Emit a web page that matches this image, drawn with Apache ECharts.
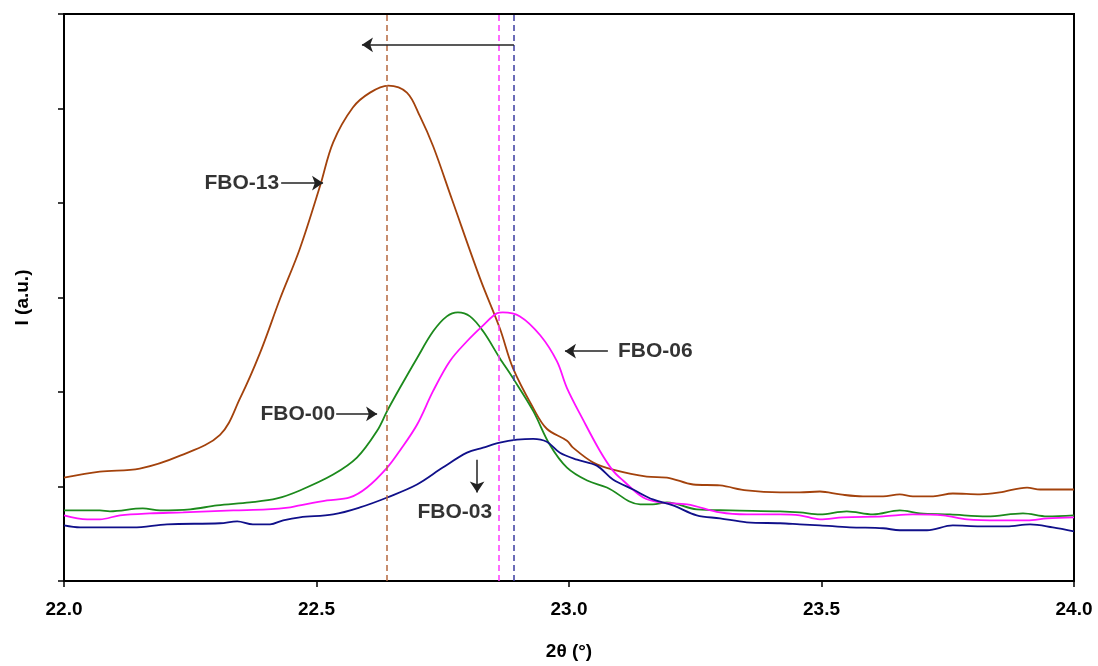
<!DOCTYPE html>
<html>
<head>
<meta charset="utf-8">
<script src="https://cdn.jsdelivr.net/npm/echarts@6/dist/echarts.min.js"></script>
<style>html,body{margin:0;padding:0;background:#fff}#c{width:1098px;height:666px}</style>
</head>
<body>
<div id="c"></div>
<script>
// ---- data (2θ in degrees, intensity in arbitrary units) ----
const xTickLabels = ['22.0', '22.5', '23.0', '23.5', '24.0'];

const fbo13X = [22.000,22.071,22.150,22.230,22.309,22.349,22.388,22.428,22.467,22.507,22.533,22.572,22.606,22.642,22.679,22.705,22.731,22.768,22.824,22.863,22.889,22.929,22.956,22.996,23.008,23.048,23.087,23.154,23.194,23.246,23.299,23.352,23.418,23.457,23.497,23.537,23.582,23.622,23.655,23.681,23.721,23.760,23.814,23.853,23.907,23.933,24.000];
const fbo13Y = [1.095,1.158,1.189,1.326,1.547,1.937,2.411,2.989,3.516,4.179,4.642,5.011,5.168,5.242,5.168,4.916,4.600,4.042,3.200,2.674,2.253,1.832,1.611,1.484,1.411,1.253,1.179,1.105,1.095,1.021,1.011,0.958,0.937,0.937,0.947,0.916,0.895,0.895,0.916,0.895,0.895,0.926,0.916,0.937,0.989,0.968,0.968];

const fbo00X = [22.000,22.071,22.091,22.156,22.190,22.250,22.303,22.368,22.422,22.467,22.533,22.580,22.620,22.640,22.665,22.699,22.731,22.758,22.780,22.804,22.830,22.863,22.889,22.929,22.962,22.996,23.036,23.075,23.141,23.166,23.194,23.253,23.319,23.418,23.457,23.497,23.550,23.602,23.655,23.695,23.754,23.828,23.899,23.947,24.000];
const fbo00Y = [0.747,0.747,0.737,0.768,0.747,0.758,0.800,0.832,0.874,0.958,1.126,1.305,1.589,1.800,2.042,2.358,2.642,2.800,2.842,2.800,2.642,2.358,2.147,1.800,1.442,1.200,1.063,0.989,0.811,0.811,0.832,0.758,0.747,0.737,0.726,0.705,0.737,0.705,0.747,0.716,0.705,0.684,0.716,0.684,0.695];

const fbo06X = [22.000,22.046,22.071,22.111,22.170,22.236,22.335,22.402,22.448,22.467,22.521,22.566,22.600,22.640,22.665,22.699,22.731,22.764,22.798,22.830,22.857,22.869,22.903,22.943,22.976,22.996,23.028,23.061,23.087,23.107,23.147,23.180,23.234,23.299,23.352,23.418,23.457,23.497,23.543,23.622,23.681,23.741,23.788,23.853,23.907,23.947,24.000];
const fbo06Y = [0.695,0.653,0.653,0.695,0.716,0.726,0.747,0.758,0.779,0.800,0.853,0.884,0.989,1.200,1.379,1.653,2.011,2.326,2.537,2.705,2.832,2.842,2.800,2.600,2.326,2.042,1.705,1.379,1.168,1.063,0.884,0.832,0.811,0.726,0.705,0.705,0.695,0.653,0.674,0.684,0.705,0.695,0.653,0.642,0.642,0.663,0.674];

const fbo03X = [22.000,22.032,22.137,22.204,22.309,22.343,22.374,22.408,22.434,22.467,22.533,22.586,22.640,22.699,22.750,22.798,22.830,22.863,22.897,22.929,22.956,22.982,23.016,23.055,23.087,23.127,23.166,23.206,23.253,23.299,23.352,23.418,23.457,23.497,23.556,23.622,23.655,23.709,23.760,23.814,23.867,23.913,23.958,24.000];
const fbo03Y = [0.589,0.568,0.568,0.600,0.611,0.632,0.600,0.600,0.642,0.674,0.705,0.779,0.884,1.021,1.200,1.358,1.411,1.463,1.495,1.505,1.474,1.358,1.284,1.221,1.074,0.968,0.863,0.800,0.695,0.663,0.621,0.611,0.600,0.589,0.568,0.558,0.537,0.537,0.589,0.579,0.579,0.600,0.568,0.526];

// peak positions (dashed guides)
const peakFBO13 = 22.642;
const peakFBO06 = 22.865;
const peakFBO03 = 22.891;

// annotation anchors (data coords)
const shiftArrow = [[22.891, 5.674], [22.590, 5.674]];
const arrow13 = [[22.430, 4.211], [22.513, 4.211]];
const arrow00 = [[22.539, 1.768], [22.620, 1.768]];
const arrow06 = [[23.077, 2.432], [22.992, 2.432]];
const arrow03 = [[22.818, 1.284], [22.818, 0.937]];
const label13 = [22.426, 4.211];
const label00 = [22.537, 1.768];
const label06 = [23.097, 2.432];
const label03 = [22.774, 0.726];

const pairs = (xs, ys) => xs.map((v, i) => [v, ys[i]]);

const lineSeries = (name, xs, ys, color) => ({
  name, type: 'line', data: pairs(xs, ys), showSymbol: false, symbol: 'none',
  smooth: 0.35,
  lineStyle: { color, width: 1.8 }, z: 3
});

const arrowItem = (seg) => [{ coord: seg[0] }, { coord: seg[1] }];

const chart = echarts.init(document.getElementById('c'));
const font = 'Liberation Sans, Arial, sans-serif';
chart.setOption({
  animation: false,
  backgroundColor: '#fff',
  grid: { left: 64, right: 24, top: 14, bottom: 82, show: true, borderColor: '#000', borderWidth: 2, backgroundColor: 'transparent' },
  xAxis: {
    type: 'value', min: 22, max: 24, interval: 0.5,
    name: '2θ (°)', nameLocation: 'middle', nameGap: 61,
    nameTextStyle: { fontFamily: font, fontWeight: 'bold', fontSize: 19, color: '#000' },
    axisLine: { lineStyle: { color: '#000', width: 2 } },
    axisTick: { inside: false, length: 6, lineStyle: { color: '#000', width: 1.5 } },
    axisLabel: { margin: 19, fontFamily: font, fontWeight: 'bold', fontSize: 19, color: '#000',
      formatter: (v) => xTickLabels[Math.round((v - 22) / 0.5)] },
    splitLine: { show: false }
  },
  yAxis: {
    type: 'value', min: 0, max: 6, interval: 1,
    name: 'I (a.u.)', nameLocation: 'middle', nameGap: 32, nameRotate: 90,
    nameTextStyle: { fontFamily: font, fontWeight: 'bold', fontSize: 19, color: '#000' },
    axisLine: { show: true, lineStyle: { color: '#000', width: 2 } },
    axisTick: { show: true, inside: false, length: 6, lineStyle: { color: '#000', width: 1.5 } },
    axisLabel: { show: false },
    splitLine: { show: false }
  },
  series: [
    lineSeries('FBO-13', fbo13X, fbo13Y, '#A3420C'),
    lineSeries('FBO-00', fbo00X, fbo00Y, '#1C8A1C'),
    lineSeries('FBO-06', fbo06X, fbo06Y, '#FF10FF'),
    lineSeries('FBO-03', fbo03X, fbo03Y, '#10108A'),
    {
      name: 'guides', type: 'line', data: [], z: 2,
      markLine: {
        silent: true, symbol: ['none', 'none'], label: { show: false },
        data: [
          { xAxis: peakFBO13, lineStyle: { color: '#B5683F', type: [6, 4], width: 1.5 } },
          { xAxis: peakFBO06, lineStyle: { color: '#FF3CFF', type: [6, 4], width: 1.5 } },
          { xAxis: peakFBO03, lineStyle: { color: '#3C3CA0', type: [6, 4], width: 1.5 } }
        ]
      }
    },
    {
      name: 'arrows', type: 'line', data: [], z: 4,
      markLine: {
        silent: true, symbol: ['none', 'arrow'], symbolSize: 11, label: { show: false },
        lineStyle: { color: '#222', type: 'solid', width: 1.5 },
        itemStyle: { color: '#222' },
        data: [arrowItem(shiftArrow), arrowItem(arrow13), arrowItem(arrow00), arrowItem(arrow06), arrowItem(arrow03)]
      }
    },
    {
      name: 'labels', type: 'scatter', symbolSize: 0, z: 5, silent: true,
      data: [
        { value: label13, name: 'FBO-13', label: { position: 'left', distance: 0 } },
        { value: label00, name: 'FBO-00', label: { position: 'left', distance: 0 } },
        { value: label06, name: 'FBO-06', label: { position: 'right', distance: 0 } },
        { value: label03, name: 'FBO-03', label: { position: 'inside' } }
      ],
      label: { show: true, formatter: (p) => p.name, fontFamily: font, fontWeight: 'bold', fontSize: 21, color: '#000' }
    }
  ]
});
</script>
</body>
</html>
